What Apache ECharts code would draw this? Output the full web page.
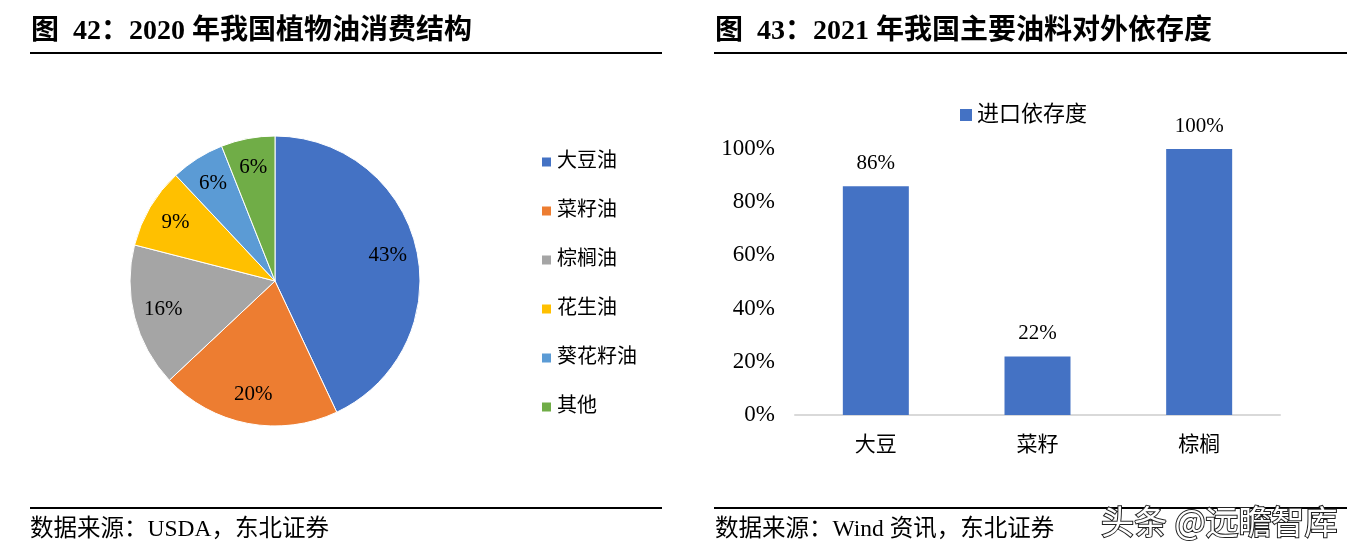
<!DOCTYPE html>
<html>
<head>
<meta charset="utf-8">
<script src="https://cdn.jsdelivr.net/npm/echarts@6/dist/echarts.min.js"></script>
<style>
  html, body { margin: 0; padding: 0; background: #fff; }
  #main { width: 1368px; height: 558px; }
</style>
</head>
<body>
<div id="main"></div>
<script>
// 图42 数据
const oilNames = ['大豆油', '菜籽油', '棕榈油', '花生油', '葵花籽油', '其他'];
const oilShare = [43, 20, 16, 9, 6, 6];
const oilColors = ['#4472C4', '#ED7D31', '#A5A5A5', '#FFC000', '#5B9BD5', '#70AD47'];

// 图43 数据
const cropNames = ['大豆', '菜籽', '棕榈'];
const importDep = [86, 22, 100];
const depLabel = '进口依存度';
const depTicks = [0, 20, 40, 60, 80, 100];

const FONT = '"Liberation Serif", "Noto Sans CJK SC", serif';
const BLACK = '#000';

const chart = echarts.init(document.getElementById('main'), null, { renderer: 'canvas' });

const pieData = oilNames.map((name, i) => ({
    name, value: oilShare[i],
    itemStyle: { color: oilColors[i] }
}));

chart.setOption({
    animation: false,
    textStyle: { fontFamily: FONT, color: BLACK },
    legend: [{
        orient: 'vertical',
        left: 535,
        top: 147,
        itemWidth: 11,
        itemHeight: 11,
        itemGap: 29,
        icon: 'rect',
        data: oilNames.map((name, i) => ({ name, itemStyle: { color: oilColors[i] } })),
        textStyle: { fontFamily: FONT, fontSize: 20, lineHeight: 20, color: BLACK },
    }, {
        left: 955,
        top: 99,
        itemWidth: 12,
        itemHeight: 12,
        icon: 'rect',
        data: [depLabel],
        textStyle: { fontFamily: FONT, fontSize: 22, color: BLACK },
    }],
    grid: { left: 795, right: 88, top: 149, bottom: 143 },
    xAxis: {
        type: 'category',
        data: cropNames,
        axisLine: { lineStyle: { color: '#D9D9D9', width: 2 } },
        axisTick: { show: false },
        axisLabel: { fontFamily: FONT, fontSize: 21, color: BLACK, margin: 20 },
    },
    yAxis: {
        type: 'value',
        min: depTicks[0],
        max: depTicks[depTicks.length - 1],
        interval: 20,
        axisLine: { show: false },
        axisTick: { show: false },
        splitLine: { show: false },
        axisLabel: { fontFamily: FONT, fontSize: 23, color: BLACK, margin: 20, formatter: '{value}%' },
    },
    series: [{
        type: 'pie',
        center: [275, 281],
        radius: [0, 145],
        startAngle: 90,
        label: { show: false },
        labelLine: { show: false },
        itemStyle: { borderColor: '#fff', borderWidth: 1 },
        data: pieData,
    }, {
        // 标签层：透明，用于把百分比放在约 0.78 半径处
        type: 'pie',
        center: [275, 281],
        radius: [80, 145],
        startAngle: 90,
        silent: true,
        itemStyle: { color: 'rgba(0,0,0,0)', borderWidth: 0 },
        label: {
            show: true,
            position: 'inside',
            fontFamily: FONT,
            fontSize: 21,
            color: BLACK,
            formatter: '{c}%',
        },
        labelLine: { show: false },
        data: oilNames.map((name, i) => ({ name, value: oilShare[i] })),
    }, {
        name: depLabel,
        type: 'bar',
        data: importDep,
        barWidth: 66,
        itemStyle: { color: '#4472C4' },
        label: {
            show: true,
            position: 'top',
            distance: 12,
            fontFamily: FONT,
            fontSize: 21,
            color: BLACK,
            formatter: '{c}%',
        },
    }],
    graphic: [
        { type: 'text', left: 31, top: 18, style: { text: '图  42：2020 年我国植物油消费结构', font: 'bold 28px ' + FONT, fill: BLACK } },
        { type: 'text', left: 715, top: 18, style: { text: '图  43：2021 年我国主要油料对外依存度', font: 'bold 28px ' + FONT, fill: BLACK } },
        { type: 'line', shape: { x1: 30, y1: 53, x2: 662, y2: 53 }, style: { stroke: BLACK, lineWidth: 2 } },
        { type: 'line', shape: { x1: 714, y1: 53, x2: 1347, y2: 53 }, style: { stroke: BLACK, lineWidth: 2 } },
        { type: 'line', shape: { x1: 30, y1: 508, x2: 662, y2: 508 }, style: { stroke: BLACK, lineWidth: 2 } },
        { type: 'line', shape: { x1: 714, y1: 508, x2: 1347, y2: 508 }, style: { stroke: BLACK, lineWidth: 2 } },
        { type: 'text', left: 30, top: 518, style: { text: '数据来源：USDA，东北证券', font: '23.5px ' + FONT, fill: BLACK } },
        { type: 'text', left: 715, top: 518, style: { text: '数据来源：Wind 资讯，东北证券', font: '23.5px ' + FONT, fill: BLACK } },
        { type: 'text', left: 1100, top: 504, z: 100, style: { text: '头条 @远瞻智库', font: '33px "Noto Sans CJK SC", sans-serif', fill: '#fff', stroke: '#222', lineWidth: 2 } },
    ],
});
</script>
</body>
</html>
